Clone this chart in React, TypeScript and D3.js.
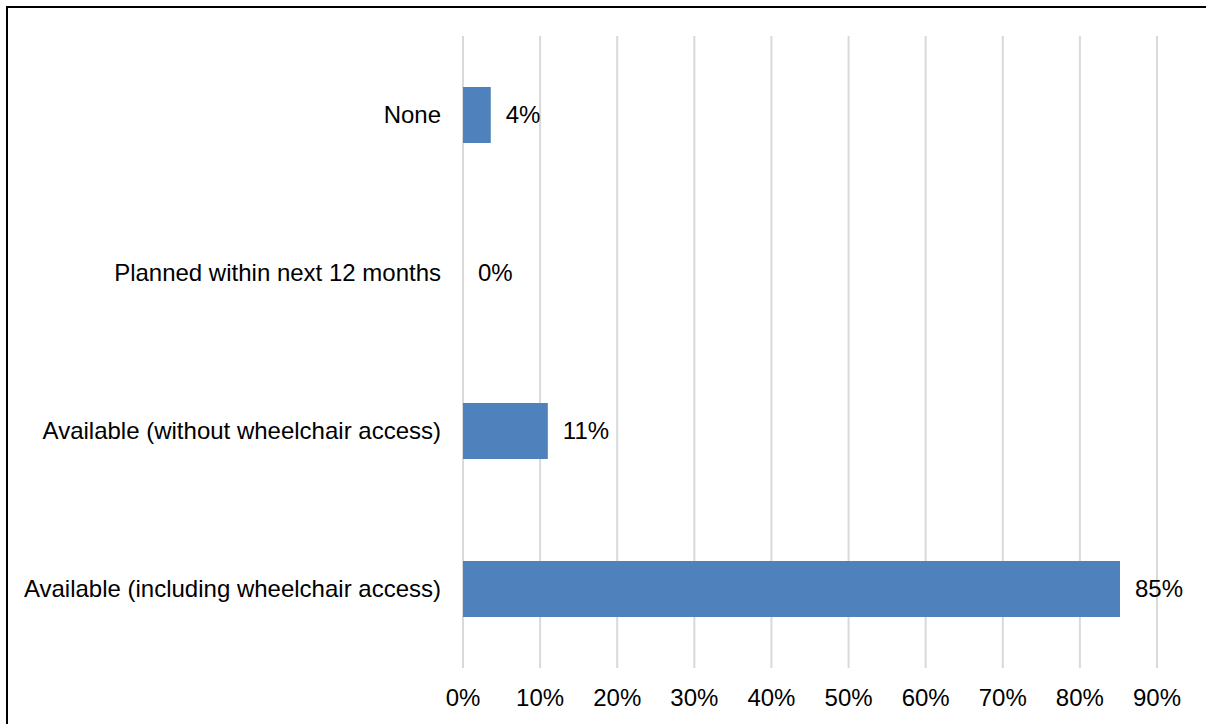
import React from "react";
import * as d3 from "d3";

const categories = [
  "None",
  "Planned within next 12 months",
  "Available (without wheelchair access)",
  "Available (including wheelchair access)",
];
const values = [0.036, 0, 0.11, 0.852];
const valueLabels = ["4%", "0%", "11%", "85%"];
const xTicks = [0, 0.1, 0.2, 0.3, 0.4, 0.5, 0.6, 0.7, 0.8, 0.9];

const W = 1206;
const H = 724;
const FONT = "Arial, 'Liberation Sans', Helvetica, sans-serif";

export default function App() {
  const x = d3.scaleLinear().domain([0, 0.9]).range([463, 1157]);
  const y = d3
    .scaleBand<string>()
    .domain(categories)
    .range([36, 668])
    .paddingInner(0.6456)
    .paddingOuter(0.3228);
  const fmt = d3.format(".0%");
  const fs = 24;

  return (
    <div style={{ position: "absolute", left: 0, top: 0 }}>
      <svg width={W} height={H} style={{ display: "block", background: "#fff" }}>
        <rect x={0} y={0} width={W} height={H} fill="#fff" />
        <rect x={7} y={7} width={W + 20} height={H + 20} fill="none" stroke="#000" strokeWidth={2} />
        {xTicks.map((t) => (
          <line
            key={"g" + t}
            x1={x(t)}
            x2={x(t)}
            y1={36}
            y2={668}
            stroke="#d9d9d9"
            strokeWidth={2}
          />
        ))}
        {categories.map((c, i) => (
          <rect
            key={"b" + c}
            x={x(0)}
            y={y(c)!}
            width={x(values[i]) - x(0)}
            height={y.bandwidth()}
            fill="#4f81bd"
          />
        ))}
        {categories.map((c, i) => (
          <text
            key={"c" + c}
            x={441}
            y={y(c)! + y.bandwidth() / 2}
            dy="0.35em"
            textAnchor="end"
            fontFamily={FONT}
            fontSize={fs}
            fill="#000"
          >
            {c}
          </text>
        ))}
        {categories.map((c, i) => (
          <text
            key={"v" + c}
            x={x(values[i]) + 15}
            y={y(c)! + y.bandwidth() / 2}
            dy="0.35em"
            textAnchor="start"
            fontFamily={FONT}
            fontSize={fs}
            fill="#000"
          >
            {valueLabels[i]}
          </text>
        ))}
        {xTicks.map((t) => (
          <text
            key={"t" + t}
            x={x(t)}
            y={706}
            textAnchor="middle"
            fontFamily={FONT}
            fontSize={fs}
            fill="#000"
          >
            {fmt(t)}
          </text>
        ))}
      </svg>
    </div>
  );
}
